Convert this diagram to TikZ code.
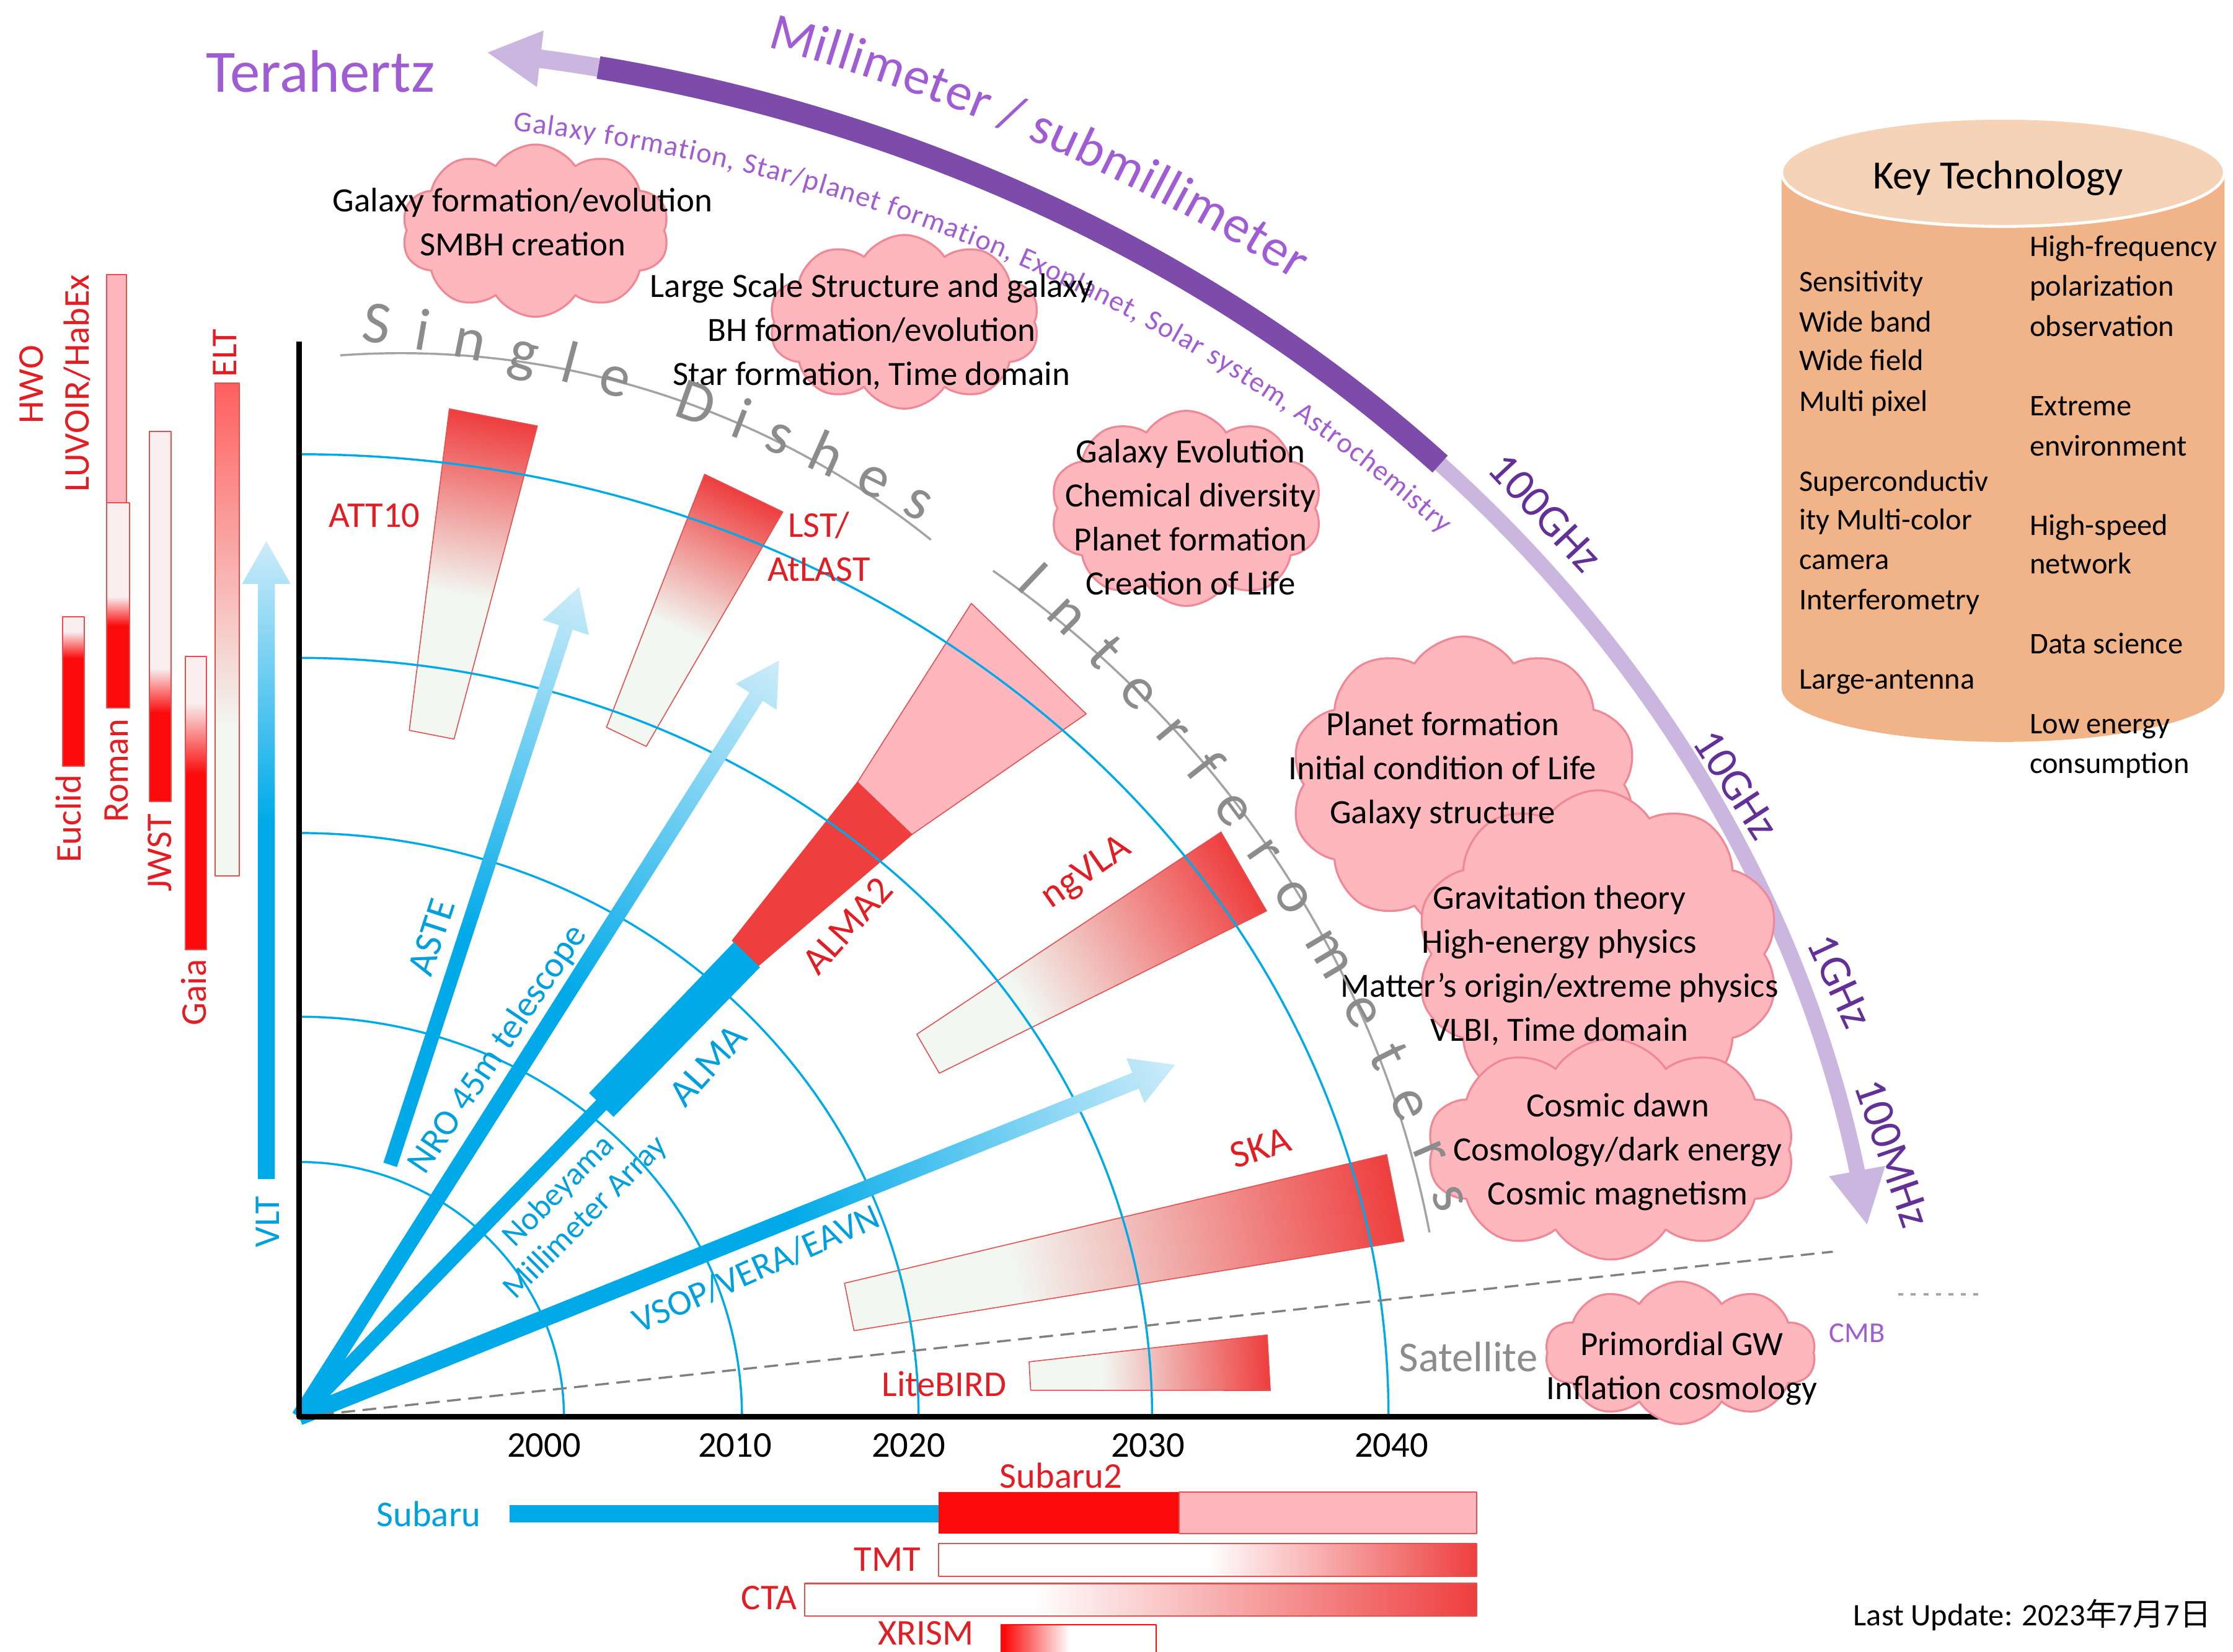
\documentclass[tikz,border=0pt]{standalone}
\usepackage{fontspec}
\setmainfont{Carlito}
\newfontfamily\cjk{Noto Sans CJK JP}
\usepackage{tikz}
\usetikzlibrary{shapes.symbols, arrows.meta, bending, decorations.text}

\definecolor{Fred}{RGB}{238,62,62}
\definecolor{Fwht}{RGB}{242,247,242}
\definecolor{Fpink}{RGB}{255,182,188}
\definecolor{Fedge}{RGB}{228,80,80}
\definecolor{Fblue}{RGB}{0,170,232}
\definecolor{Fbluel}{RGB}{205,236,250}
\definecolor{Barred}{RGB}{250,10,10}
\definecolor{Barpale}{RGB}{250,238,238}
\definecolor{Eltred}{RGB}{255,95,95}
\definecolor{Lbred}{RGB}{225,30,35}
\definecolor{Lbblue}{RGB}{0,160,222}
\definecolor{Cloud}{RGB}{255,183,190}
\definecolor{Cloudedge}{RGB}{240,135,148}
\definecolor{Pdark}{RGB}{125,75,170}
\definecolor{Plight}{RGB}{202,182,222}
\definecolor{Ptext}{RGB}{160,92,210}
\definecolor{Pfreq}{RGB}{98,48,150}
\definecolor{Dish}{RGB}{140,140,140}
\definecolor{Keybody}{RGB}{241,180,136}
\definecolor{Keytop}{RGB}{246,210,182}

% left -> right, the path box sits in 25bp..75bp
\pgfdeclarehorizontalshading{wedgeA}{100bp}{color(0bp)=(Fwht); color(40bp)=(Fwht); color(75bp)=(Fred); color(100bp)=(Fred)}
\pgfdeclarehorizontalshading{wedgeB}{100bp}{color(0bp)=(Fwht); color(47bp)=(Fwht); color(75bp)=(Fred); color(100bp)=(Fred)}
\pgfdeclarehorizontalshading{arrowA}{100bp}{color(0bp)=(Fblue); color(45bp)=(Fblue); color(75bp)=(Fbluel); color(100bp)=(Fbluel)}
\pgfdeclarehorizontalshading{arrowB}{100bp}{color(0bp)=(Fblue); color(53bp)=(Fblue); color(75bp)=(Fbluel); color(100bp)=(Fbluel)}
\pgfdeclarehorizontalshading{tmtS}{100bp}{color(0bp)=(white); color(50bp)=(white); color(75bp)=(Fred); color(100bp)=(Fred)}
\pgfdeclarehorizontalshading{ctaS}{100bp}{color(0bp)=(white); color(42bp)=(white); color(75bp)=(Fred); color(100bp)=(Fred)}
\pgfdeclarehorizontalshading{xrismS}{100bp}{color(0bp)=(Barred); color(26bp)=(Barred); color(47bp)=(white); color(100bp)=(white)}
% bottom -> top
\pgfdeclareverticalshading{euclidS}{100bp}{color(0bp)=(Barred); color(61bp)=(Barred); color(70bp)=(Barpale); color(100bp)=(Barpale)}
\pgfdeclareverticalshading{romanS}{100bp}{color(0bp)=(Barred); color(45bp)=(Barred); color(52bp)=(Barpale); color(100bp)=(Barpale)}
\pgfdeclareverticalshading{jwstS}{100bp}{color(0bp)=(Barred); color(37bp)=(Barred); color(43bp)=(Barpale); color(100bp)=(Barpale)}
\pgfdeclareverticalshading{gaiaS}{100bp}{color(0bp)=(Barred); color(55bp)=(Barred); color(67bp)=(Barpale); color(100bp)=(Barpale)}
\pgfdeclareverticalshading{eltS}{100bp}{color(0bp)=(Fwht); color(40bp)=(Fwht); color(75bp)=(Eltred); color(100bp)=(Eltred)}

% radial bar: angle, r in, r out, half width in, half width out, path options
\newcommand{\fanwedge}[6]{%
  \begin{scope}[transform canvas={rotate=#1}]
    \path[#6] (#2,-#4) -- (#3,-#5) -- (#3,#5) -- (#2,#4) -- cycle;
  \end{scope}}
% shaded arrow: start, angle, length, shaft half width, shading
\newcommand{\fanarrow}[5]{%
  \begin{scope}[transform canvas={shift={#1}, rotate=#2}]
    \shade[shading=#5] (0,-#4) -- ({#3-30},-#4) -- ({#3-30},-17) -- (#3,0)
      -- ({#3-30},17) -- ({#3-30},#4) -- (0,#4) -- cycle;
  \end{scope}}
% mission bar: x0, y0, x1, y1, shading
\newcommand{\mbar}[5]{%
  \shade[shading=#5, draw=Fedge, line width=0.5pt] (#1,#2) rectangle (#3,#4);}

\begin{document}
\begin{tikzpicture}[x=0.2mm, y=0.2mm, line join=round,
    every node/.style={inner sep=0pt},
    lab/.style={font=\fontsize{14.5}{17.5}\selectfont},
    biglab/.style={font=\fontsize{15.5}{18}\selectfont},
    redlab/.style={lab, text=Lbred},
    bluelab/.style={lab, text=Lbblue},
    cloudtxt/.style={font=\fontsize{13.6}{17.6}\selectfont, align=center},
    puff/.style={cloud, cloud puffs=10, cloud puff arc=115, cloud ignores aspect,
      fill=Cloud, draw=Cloudedge, line width=0.8pt},
    keytxt/.style={font=\fontsize{12}{15.9}\selectfont, anchor=west,
      text height=1.6ex, text depth=0.4ex},
    freq/.style={font=\fontsize{18}{20}\selectfont, text=Pfreq},
    yr/.style={font=\fontsize{14.5}{17}\selectfont}]
  \useasboundingbox (-210,-165) rectangle (1358,995);
  \coordinate (O) at (0,0);

  % ------------------------------------------------
  % frequency band along the top
  % ------------------------------------------------
  \draw[Plight, line width=2.6mm, -{Triangle[length=7.6mm, width=7.4mm]}]
    (79.1:1112 and 965) arc[start angle=79.1, end angle=83.2, x radius=1112, y radius=965];
  \draw[Plight, line width=2.2mm, -{Triangle[length=7.8mm, width=7.4mm]}]
    (44:1112 and 965) arc[start angle=44, end angle=8, x radius=1112, y radius=965];
  \draw[Pdark, line width=3.2mm]
    (79.1:1112 and 965) arc[start angle=79.1, end angle=43.9, x radius=1112, y radius=965];

  \path[decorate, decoration={text along path, text align={fit to path},
      text={|\fontsize{21}{21}\selectfont\color{Ptext}|Millimeter /  submillimeter}}]
    ([shift={(-40,-376)}]74.6:1388) arc[start angle=74.6, end angle=57.8, radius=1388];
  \path[decorate, decoration={text along path, text align={fit to path},
      text={|\fontsize{11.5}{12}\selectfont\color{Ptext}|Galaxy formation,  Star/planet formation, Exoplanet, Solar system, Astrochemistry}}]
    (82.1:1094 and 912) arc[start angle=82.1, end angle=42.9, x radius=1094, y radius=912];

  \node[font=\fontsize{24}{26}\selectfont, text=Ptext] (tera) at (15,945) {Terahertz};
  \node[freq, rotate=-47] (f100G) at (875,635) {100GHz};
  \node[freq, rotate=-57] (f10G) at (1009,444) {10GHz};
  \node[freq, rotate=-65] (f1G) at (1082,306) {1GHz};
  \node[freq, rotate=-71] (f100M) at (1119,185) {100MHz};
  \node[font=\fontsize{11.5}{13}\selectfont, text=Ptext] (fCMB) at (1094,59) {CMB};

  % ------------------------------------------------
  % future facilities
  % ------------------------------------------------
  \fanwedge{79}{488}{715}{16}{31.5}{shade, shading=wedgeB, draw=Fedge}
  \fanwedge{64.3}{530}{720}{15.5}{30.5}{shade, shading=wedgeB, draw=Fedge}
  \fanwedge{46.1}{593}{739}{26.5}{56}{fill=Fpink, draw=Fedge}
  \fanwedge{46.1}{452}{593}{12.7}{26.5}{fill=Fred, draw=Fred}
  \fanwedge{45.9}{305}{452}{12}{12.7}{fill=Fblue}
  \fanwedge{30}{510}{766}{15.8}{32}{shade, shading=wedgeA, draw=Fedge}
  \fanwedge{11.3}{394}{785}{17}{31}{shade, shading=wedgeA, draw=Fedge}
  \fanwedge{3.2}{514}{682}{10}{19.5}{shade, shading=wedgeA, draw=Fedge}

  % year arcs
  \foreach \rx/\ry in {186/179, 311/281, 435/410, 599/533, 765/676}
    \draw[Fblue, line width=0.3mm]
      (\rx,0) arc[start angle=0, end angle=90, x radius=\rx, y radius=\ry];

  % current facilities
  \fanarrow{(64,177)}{71.9}{427}{5}{arrowA}
  \fanarrow{(0,0)}{57.6}{629}{5.5}{arrowB}
  \fanarrow{(0,0)}{21.9}{663}{6}{arrowB}
  \fanarrow{(-23,167)}{90}{448}{6}{arrowB}
  \draw[Fblue, line width=2mm] (O) -- (45.9:306);

  % axes and satellite line
  \coordinate (satEnd) at (1077,116);
  \draw[gray, line width=0.3mm, dash pattern=on 5.5pt off 3pt] (O) -- (satEnd);
  \draw[gray!70, line width=0.3mm, dash pattern=on 2pt off 3pt] (1123,86) -- (1180,86);
  \draw[line width=0.8mm] (0,755) -- (O) -- (980,0);

  \foreach \yx/\yv in {172/2000, 306/2010, 428/2020, 596/2030, 767/2040}
    \node[yr] (yr\yv) at (\yx,-20) {\yv};

  % ------------------------------------------------
  % space missions (left) and optical (bottom)
  % ------------------------------------------------
  \mbar{-166}{457}{-151}{562}{euclidS}
  \path[fill=Fpink, draw=Fedge, line width=0.5pt] (-135,642) rectangle (-121,802);
  \mbar{-135}{498}{-119}{642}{romanS}
  \mbar{-105}{432}{-90}{692}{jwstS}
  \mbar{-80}{328}{-65}{534}{gaiaS}
  \mbar{-59}{380}{-42}{726}{eltS}

  \node[redlab, rotate=90] (lEuclid) at (-162,420) {Euclid};
  \node[redlab, rotate=90] (lHWO) at (-188,725) {HWO};
  \node[redlab, rotate=90] (lLUVOIR) at (-156,726) {LUVOIR/HabEx};
  \node[redlab, rotate=90] (lRoman) at (-128,454) {Roman};
  \node[redlab, rotate=90] (lJWST) at (-98,396) {JWST};
  \node[redlab, rotate=90] (lGaia) at (-74,298) {Gaia};
  \node[redlab, rotate=90] (lELT) at (-52,747) {ELT};
  \node[bluelab, rotate=90] (lVLT) at (-22,137) {VLT};

  \fill[Fblue] (148,-62) rectangle (449,-74);
  \fill[Barred] (449,-53) rectangle (618,-82);
  \path[fill=Fpink, draw=Fedge, line width=0.5pt] (618,-53) rectangle (827,-82);
  \shade[shading=tmtS, draw=Fedge, line width=0.5pt] (449,-89) rectangle (827,-112);
  \shade[shading=ctaS, draw=Fedge, line width=0.5pt] (355,-117) rectangle (827,-140);
  \shade[shading=xrismS, draw=Barred, line width=0.5pt] (493,-146) rectangle (602,-166);

  \node[bluelab] (lSubaru) at (91,-68) {Subaru};
  \node[redlab] (lSubaru2) at (535,-41) {Subaru2};
  \node[redlab] (lTMT) at (413,-100) {TMT};
  \node[redlab] (lCTA) at (330,-127) {CTA};
  \node[redlab] (lXRISM) at (440,-152) {XRISM};

  % ------------------------------------------------
  % labels in the fan
  % ------------------------------------------------
  \node[bluelab, biglab, rotate=72] (lASTE) at (93,337) {ASTE};
  \node[bluelab, rotate=56] (lNRO) at (140,258) {NRO 45m telescope};
  \node[bluelab, rotate=45, align=center, font=\fontsize{13}{15}\selectfont]
    (lNMA) at (192,149) {Nobeyama\\Millimeter Array};
  \node[bluelab, biglab, rotate=48] (lALMA) at (287,247) {ALMA};
  \node[redlab, biglab, rotate=48] (lALMA2) at (385,345) {ALMA2};
  \node[bluelab, rotate=24] (lVSOP) at (321,104) {VSOP/VERA/EAVN};
  \node[redlab, biglab, rotate=35] (lngVLA) at (553,382) {ngVLA};
  \node[redlab, biglab, rotate=18] (lSKA) at (675,189) {SKA};
  \node[redlab] (lATT) at (53,633) {ATT10};
  \node[redlab, align=center] (lLST) at (365,611) {LST/\\AtLAST};
  \node[redlab] (lLite) at (453,23) {LiteBIRD};
  \node[font=\fontsize{17}{19}\selectfont, text=Dish] (lSat) at (821,42) {Satellite};

  % ------------------------------------------------
  % science clouds
  % ------------------------------------------------
  \node[puff, minimum width=37.6mm, minimum height=24.2mm] (cGal) at (166,833) {};
  \node[puff, minimum width=38mm, minimum height=24.4mm] (cLSS) at (425,769) {};
  \node[puff, minimum width=38.2mm, minimum height=27.4mm] (cEvo) at (623,638) {};
  \node[puff, minimum width=48.8mm, minimum height=41.6mm] (cPla) at (818,444) {};
  \node[puff, minimum width=51.2mm, minimum height=46mm] (cGrav) at (912,325) {};
  \node[puff, minimum width=51.6mm, minimum height=31mm] (cCos) at (921,188) {};
  \node[puff, minimum width=38mm, minimum height=20mm] (cPri) at (970,45) {};

  \node[cloudtxt] (tGal) at (157,839) {Galaxy formation/evolution\\SMBH creation};
  \node[cloudtxt] (tLSS) at (402,762)
    {Large Scale Structure and galaxy\\BH formation/evolution\\Star formation, Time domain};
  \node[cloudtxt] (tEvo) at (626,632)
    {Galaxy Evolution\\Chemical diversity\\Planet formation\\Creation of Life};
  \node[cloudtxt] (tPla) at (803,454)
    {Planet formation\\Initial condition of Life\\Galaxy structure};
  \node[cloudtxt] (tGrav) at (885,317)
    {Gravitation theory\\High-energy physics\\Matter’s origin/extreme physics\\VLBI, Time domain};
  \node[cloudtxt] (tCos) at (926,186)
    {Cosmic dawn\\Cosmology/dark energy\\Cosmic magnetism};
  \node[cloudtxt] (tPri) at (971,34) {Primordial GW\\Inflation cosmology};

  % ------------------------------------------------
  % single dishes / interferometers
  % ------------------------------------------------
  \draw[Dish!80, line width=0.3mm]
    ([shift={(71.5,153)}]94.1:594) arc[start angle=94.1, end angle=51.2, radius=594];
  \draw[Dish!80, line width=0.3mm]
    (52.8:806 and 746) arc[start angle=52.8, end angle=10, x radius=806, y radius=746];
  \path[decorate, decoration={text along path, text align={fit to path},
      text={|\fontsize{24}{24}\selectfont\color{Dish}|S i n g l e}}]
    ([shift={(-120,-419)}]82.1:1186) arc[start angle=82.1, end angle=72.9, radius=1186];
  \path[decorate, decoration={text along path, text align={fit to path},
      text={|\fontsize{24}{24}\selectfont\color{Dish}|D i s h e s}}]
    ([shift={(-120,-419)}]71.2:1186) arc[start angle=71.2, end angle=62, radius=1186];
  \path[decorate, decoration={text along path, text align={fit to path},
      text={|\fontsize{24}{24}\selectfont\color{Dish}|I n t e r f e r o m e t e r s}}]
    ([shift={(-326,-299)}]46.8:1210) arc[start angle=46.8, end angle=21.4, radius=1210];

  % ------------------------------------------------
  % key technology drum
  % ------------------------------------------------
  \fill[Keybody] (1041,874) -- (1041,512)
    arc[start angle=180, end angle=360, x radius=155.5, y radius=38] -- (1352,874) -- cycle;
  \path[fill=Keytop, draw=white, line width=1.2pt]
    (1196.5,874) ellipse[x radius=155.5, y radius=38];
  \node[font=\fontsize{16}{18}\selectfont] (keyT) at (1193,870) {Key Technology};

  \foreach \ky/\kt in {795/Sensitivity, 767/Wide band, 740/Wide field, 711/Multi pixel,
      655/Superconductiv, 628/ity Multi-color, 600/camera, 572/Interferometry,
      516/Large-antenna}
    \node[keytxt] (kl\ky) at (1053,\ky) {\kt};
  \foreach \ky/\kt in {820/High-frequency, 792/polarization, 764/observation,
      708/Extreme, 680/environment, 624/High-speed, 597/network,
      541/Data science, 485/Low energy, 457/consumption}
    \node[keytxt] (kr\ky) at (1215,\ky) {\kt};

  \node[font=\fontsize{12.5}{14}\selectfont] (upd) at (1217,-139)
    {Last Update: 2023{\cjk 年}7{\cjk 月}7{\cjk 日}};
\end{tikzpicture}
\end{document}
